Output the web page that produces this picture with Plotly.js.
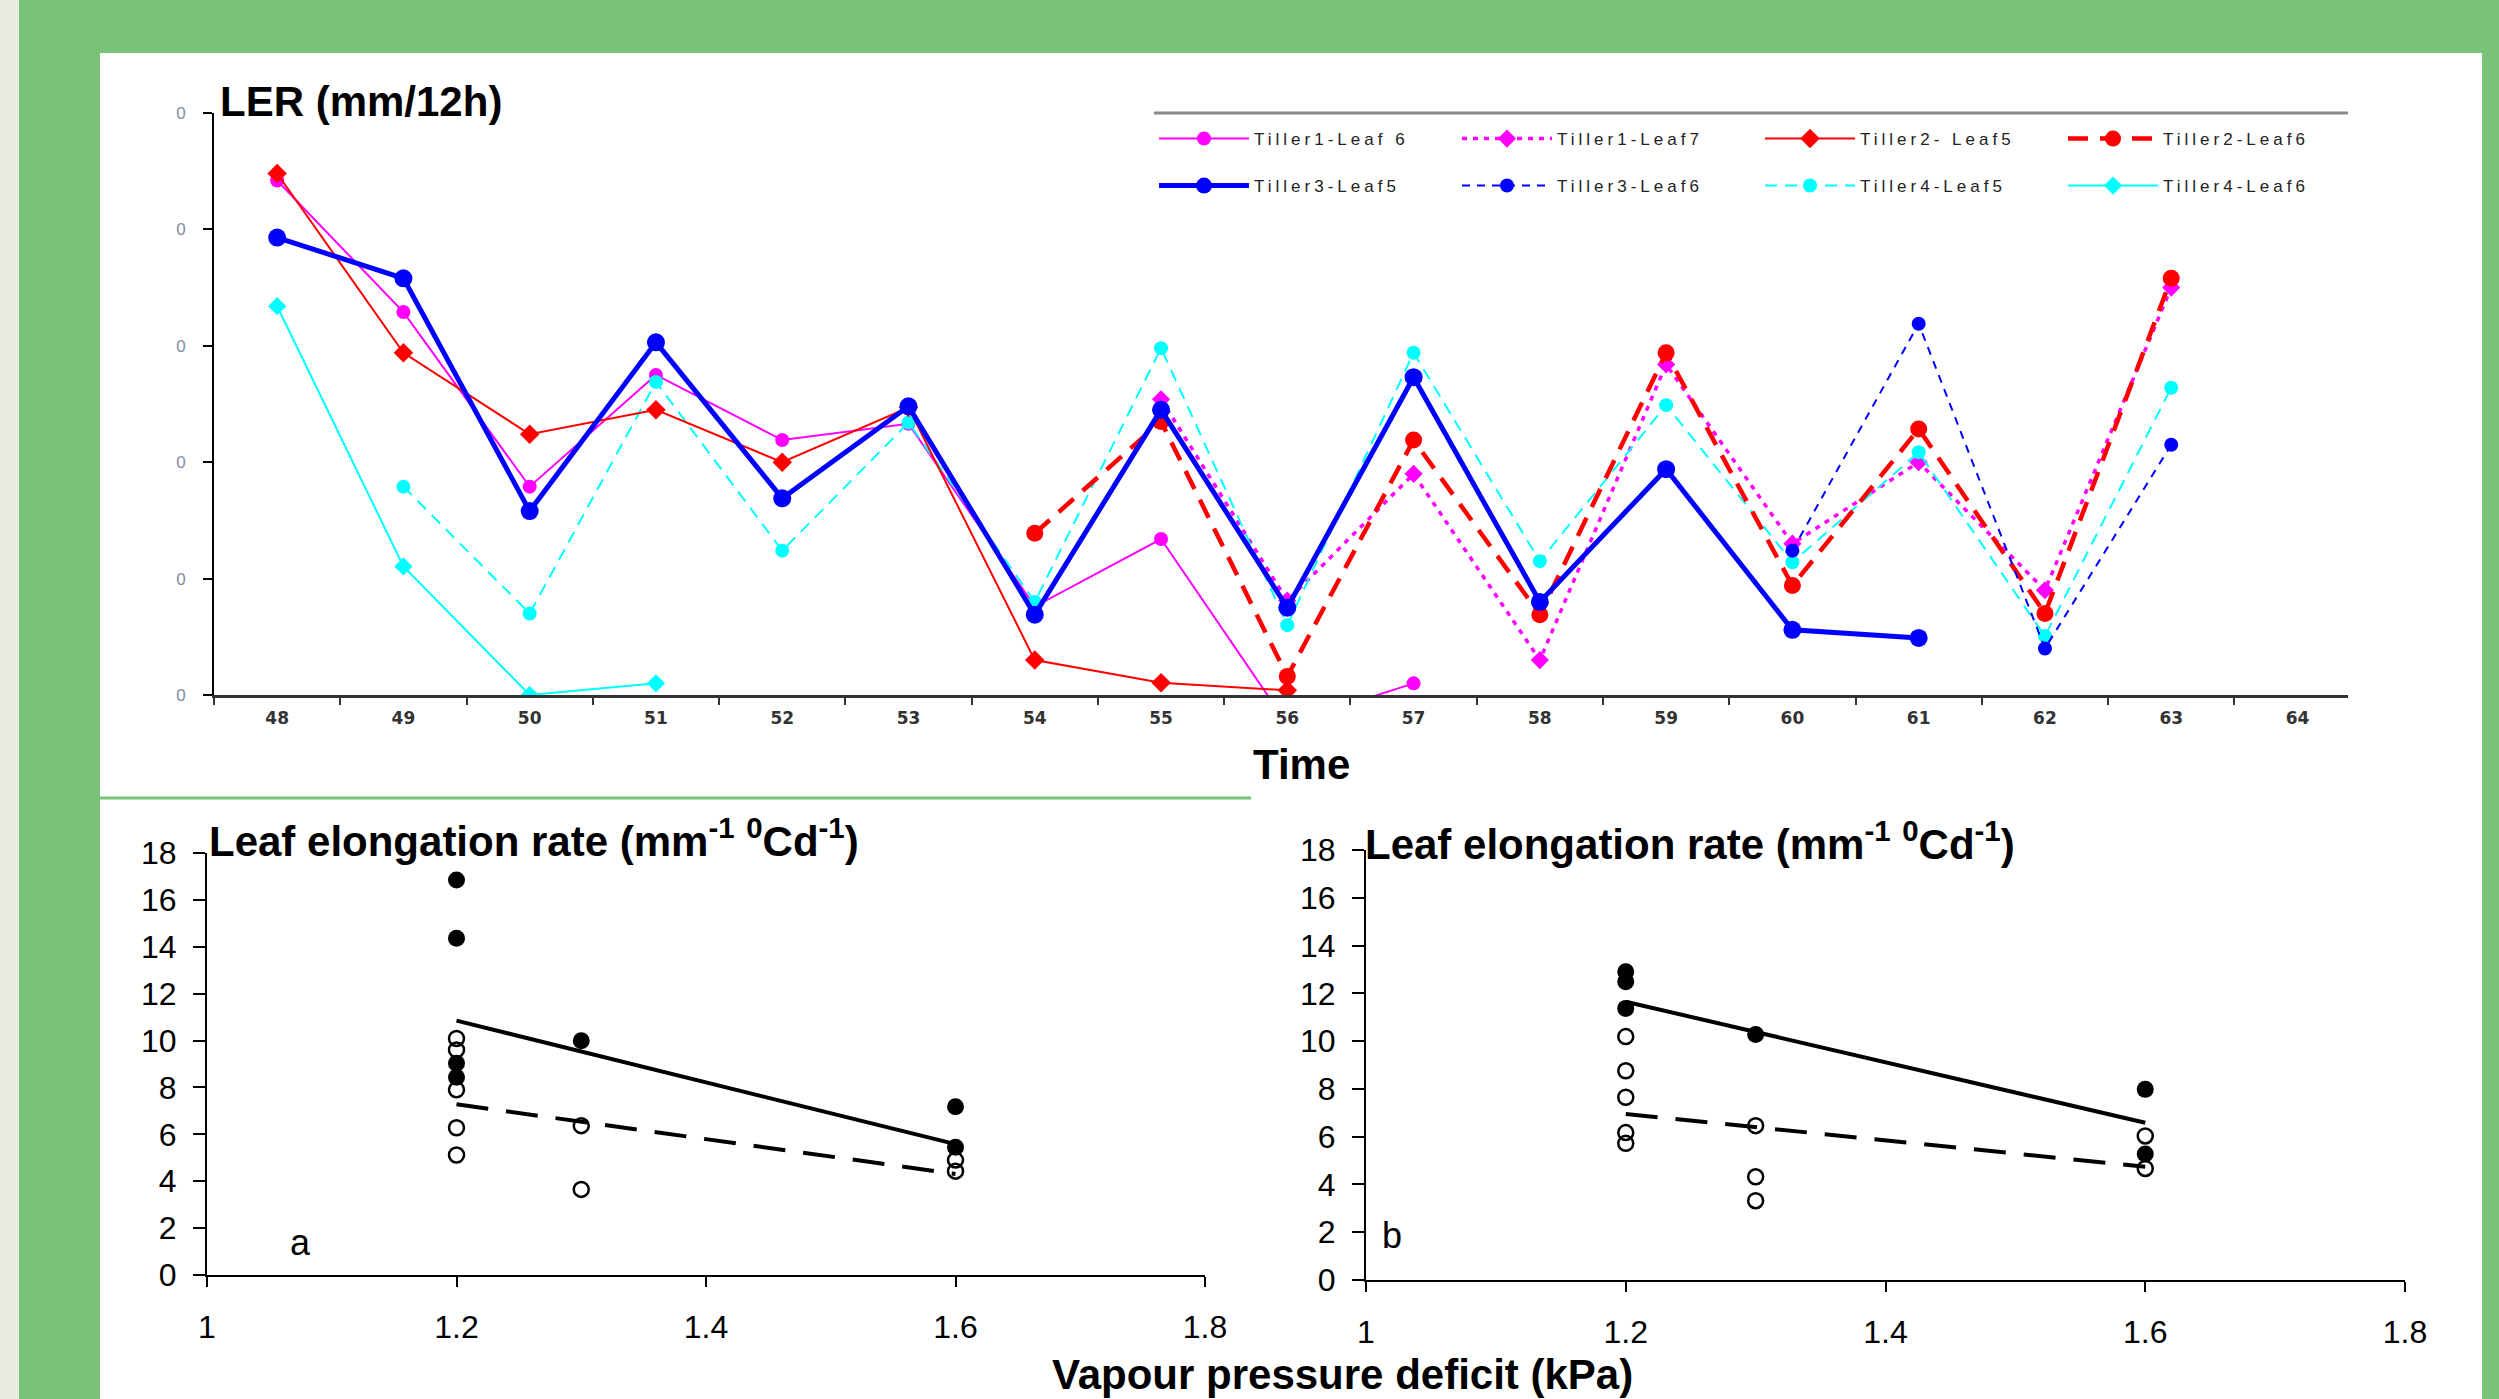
<!DOCTYPE html>
<html><head><meta charset="utf-8">
<script src="https://cdn.plot.ly/plotly-3.0.1.min.js"></script>
<style>
html,body{margin:0;padding:0;background:#78c377;}
.legendtext, g.legend text, g.legend2 text, [class*="legend"] text.legendtext{letter-spacing:4px !important;}
</style>
</head><body>
<div id="chart" style="width:2499px;height:1399px;"></div>
<script>
// ---------- Top chart data: LER (mm/12h) vs Time ----------
const times = [48,49,50,51,52,53,54,55,56,57,58,59,60,61,62,63];
const timeTicks = [48,49,50,51,52,53,54,55,56,57,58,59,60,61,62,63,64];
const timeTickText = ['48','49','50','51','52','53','54','55','56','57','58','59','60','61','62','63','64'];
const lerTicks = [0,10,20,30,40,50];
const lerTickText = ['0','0','0','0','0','0'];

const tiller1Leaf6 = [44.2,32.9,17.9,27.5,21.9,23.3,7.6,13.4,-2.5,1.0,null,null,null,null,null,null];
const tiller1Leaf7 = [null,null,null,null,null,null,null,25.4,8.1,19.0,3.0,28.4,13.0,20.0,9.0,35.0];
const tiller2Leaf5 = [44.8,29.4,22.4,24.5,20.0,24.7,3.0,1.05,0.4,null,null,null,null,null,null,null];
const tiller2Leaf6 = [null,null,null,null,null,null,13.9,23.5,1.6,21.9,6.9,29.4,9.4,22.85,7.0,35.8];
const tiller3Leaf5 = [39.3,35.8,15.8,30.3,16.9,24.8,6.9,24.5,7.5,27.3,8.0,19.4,5.6,4.9,null,null];
const tiller3Leaf6 = [null,null,null,null,null,null,null,null,null,null,null,null,12.4,31.9,4.0,21.5];
const tiller4Leaf5 = [null,17.9,7.0,26.9,12.4,23.4,8.0,29.8,6.0,29.4,11.5,24.9,11.4,20.85,5.06,26.4];
const tiller4Leaf6 = [33.4,11.05,0.0,1.0,null,null,null,null,null,null,null,null,null,null,null,null];

// ---------- Bottom panels: Leaf elongation rate vs VPD ----------
const vpdTicks = [1,1.2,1.4,1.6,1.8];
const lerRateTicks = [0,2,4,6,8,10,12,14,16,18];

const aFilledX = [1.2,1.2,1.2,1.2,1.3,1.6,1.6];
const aFilledY = [16.85,14.36,9.03,8.43,9.99,7.18,5.45];
const aOpenX = [1.2,1.2,1.2,1.2,1.2,1.3,1.3,1.6,1.6];
const aOpenY = [10.09,9.6,7.9,6.28,5.12,6.37,3.65,4.9,4.43];
const aFitX = [1.2,1.6];
const aSolidFitY = [10.85,5.58];
const aDashFitY = [7.28,4.31];

const bFilledX = [1.2,1.2,1.2,1.3,1.6,1.6];
const bFilledY = [12.9,12.49,11.37,10.28,7.98,5.27];
const bOpenX = [1.2,1.2,1.2,1.2,1.2,1.3,1.3,1.3,1.6,1.6];
const bOpenY = [10.19,8.76,7.65,6.17,5.72,6.46,4.32,3.32,6.03,4.67];
const bFitX = [1.2,1.6];
const bSolidFitY = [11.65,6.58];
const bDashFitY = [6.95,4.74];

// ---------- helpers ----------
const W = 2499, H = 1399;
const px = v => v / W;
const py = v => 1 - v / H;
const FONT = 'Liberation Sans, Arial, sans-serif';

function tSeries(name, y, color, width, dash, symbol, size, legend, rank) {
  return {
    type: 'scatter', mode: 'lines+markers', name: name, x: times, y: y,
    xaxis: 'x', yaxis: 'y',
    line: {color: color, width: width, dash: dash},
    marker: {color: color, symbol: symbol, size: size},
    legend: legend, legendrank: rank, hoverinfo: 'skip'
  };
}

const traces = [
  tSeries('Tiller1-Leaf 6', tiller1Leaf6, '#ff00ff', 2, 'solid', 'circle', 14, 'legend', 1),
  tSeries('Tiller1-Leaf7', tiller1Leaf7, '#ff00ff', 3.5, '5px,6px', 'diamond', 14, 'legend', 2),
  tSeries('Tiller4-Leaf6', tiller4Leaf6, '#00ffff', 2, 'solid', 'diamond', 14, 'legend2', 8),
  tSeries('Tiller4-Leaf5', tiller4Leaf5, '#00ffff', 2, '12px,8px', 'circle', 14, 'legend2', 7),
  tSeries('Tiller2- Leaf5', tiller2Leaf5, '#ff0000', 2, 'solid', 'diamond', 15, 'legend', 3),
  tSeries('Tiller2-Leaf6', tiller2Leaf6, '#ff0000', 4.5, '20px,12px', 'circle', 17, 'legend', 4),
  tSeries('Tiller3-Leaf6', tiller3Leaf6, '#0000ff', 2, '8px,7px', 'circle', 14, 'legend2', 6),
  tSeries('Tiller3-Leaf5', tiller3Leaf5, '#0000ff', 5, 'solid', 'circle', 18, 'legend2', 5)
];

function pts(x, y, xa, ya, open) {
  return {
    type: 'scatter', mode: 'markers', x: x, y: y, xaxis: xa, yaxis: ya, showlegend: false,
    marker: open ? {symbol: 'circle-open', size: 15, color: '#000', line: {color: '#000', width: 2.5}}
                 : {symbol: 'circle', size: 17, color: '#000'},
    hoverinfo: 'skip', cliponaxis: false
  };
}
function fit(x, y, xa, ya, dash) {
  return {
    type: 'scatter', mode: 'lines', x: x, y: y, xaxis: xa, yaxis: ya, showlegend: false,
    line: {color: '#000', width: 4, dash: dash}, hoverinfo: 'skip'
  };
}
traces.push(
  fit(aFitX, aSolidFitY, 'x2', 'y2', 'solid'),
  fit(aFitX, aDashFitY, 'x2', 'y2', '32px,18px'),
  pts(aFilledX, aFilledY, 'x2', 'y2', false),
  pts(aOpenX, aOpenY, 'x2', 'y2', true),
  fit(bFitX, bSolidFitY, 'x3', 'y3', 'solid'),
  fit(bFitX, bDashFitY, 'x3', 'y3', '32px,18px'),
  pts(bFilledX, bFilledY, 'x3', 'y3', false),
  pts(bOpenX, bOpenY, 'x3', 'y3', true)
);

const bottomX = (dom) => ({
  domain: dom, range: [1, 1.8], tickvals: vpdTicks, ticktext: vpdTicks.map(String),
  showline: true, linecolor: '#000', linewidth: 2, ticks: 'outside', ticklen: 10, tickwidth: 2, tickcolor: '#000',
  showgrid: false, zeroline: false, ticklabelstandoff: 13,
  tickfont: {family: FONT, size: 32, color: '#000'}
});
const bottomY = (dom, anchor) => ({
  domain: dom, range: [0, 18], tickvals: lerRateTicks, anchor: anchor,
  showline: true, linecolor: '#000', linewidth: 2, ticks: 'outside', ticklen: 12, tickwidth: 2, tickcolor: '#000',
  showgrid: false, zeroline: false, ticklabelstandoff: 10,
  tickfont: {family: FONT, size: 32, color: '#000'}
});

const legendBase = {
  xanchor: 'left', yanchor: 'middle', orientation: 'h',
  entrywidth: 198, entrywidthmode: 'pixels', itemwidth: 90,
  font: {family: FONT, size: 17, color: '#222'}, bgcolor: 'rgba(0,0,0,0)',
  itemclick: false, itemdoubleclick: false
};

const layout = {
  width: W, height: H, margin: {l: 0, r: 0, t: 0, b: 0, autoexpand: false},
  paper_bgcolor: '#78c377', plot_bgcolor: 'rgba(0,0,0,0)',
  xaxis: {
    domain: [px(214), px(2348)], range: [47.5, 64.4], anchor: 'y',
    tickvals: timeTicks, ticktext: timeTickText, ticks: '',
    minor: {tickvals: [47.5,48.5,49.5,50.5,51.5,52.5,53.5,54.5,55.5,56.5,57.5,58.5,59.5,60.5,61.5,62.5,63.5],
            ticks: 'outside', ticklen: 7, tickwidth: 2, tickcolor: '#333', showgrid: false},
    showline: true, linecolor: '#333', linewidth: 3, showgrid: false, zeroline: false,
    ticklabelstandoff: 6,
    tickfont: {family: 'DejaVu Sans, sans-serif', size: 17, color: '#333', weight: 'bold'}
  },
  yaxis: {
    domain: [py(695), py(113)], range: [0, 50], anchor: 'x',
    tickvals: lerTicks, ticktext: lerTickText, ticks: 'outside', ticklen: 9, tickwidth: 2, tickcolor: '#000',
    showline: true, linecolor: '#000', linewidth: 2, showgrid: false, zeroline: false,
    ticklabelstandoff: 14,
    tickfont: {family: FONT, size: 17, color: '#7d8ea3'}
  },
  xaxis2: Object.assign(bottomX([px(207), px(1205)]), {anchor: 'y2'}),
  yaxis2: bottomY([py(1275), py(853)], 'x2'),
  xaxis3: Object.assign(bottomX([px(1366), px(2405)]), {anchor: 'y3'}),
  yaxis3: bottomY([py(1280), py(850)], 'x3'),
  legend: Object.assign({}, legendBase, {x: px(1154), y: py(139)}),
  legend2: Object.assign({}, legendBase, {x: px(1154), y: py(186)}),
  shapes: [
    {type: 'rect', xref: 'paper', yref: 'paper', x0: 0, x1: px(19), y0: 0, y1: 1,
     fillcolor: '#e8ece0', line: {width: 0}, layer: 'below'},
    {type: 'rect', xref: 'paper', yref: 'paper', x0: px(100), x1: px(2482), y0: 0, y1: py(53),
     fillcolor: '#ffffff', line: {width: 0}, layer: 'below'},
    {type: 'line', xref: 'paper', yref: 'paper', x0: px(100), x1: px(1251), y0: py(798), y1: py(798),
     line: {color: '#78c377', width: 3}, layer: 'below'},
    {type: 'line', xref: 'paper', yref: 'paper', x0: px(1154), x1: px(2348), y0: py(113), y1: py(113),
     line: {color: '#8a8a8a', width: 3}, layer: 'below'}
  ],
  annotations: [
    {text: '<b>LER (mm/12h)</b>', xref: 'paper', yref: 'paper', x: px(218), y: py(101),
     xanchor: 'left', yanchor: 'middle', showarrow: false, font: {family: FONT, size: 42, color: '#000'}},
    {text: '<b>Time</b>', xref: 'paper', yref: 'paper', x: px(1301), y: py(764),
     xanchor: 'center', yanchor: 'middle', showarrow: false, font: {family: FONT, size: 42, color: '#000'}},
    {text: '<b>Leaf elongation rate (mm<sup>-1</sup> <sup>0</sup>Cd<sup>-1</sup>)</b>', xref: 'paper', yref: 'paper',
     x: px(207), y: py(838), xanchor: 'left', yanchor: 'middle', showarrow: false,
     font: {family: FONT, size: 42, color: '#000'}},
    {text: '<b>Leaf elongation rate (mm<sup>-1</sup> <sup>0</sup>Cd<sup>-1</sup>)</b>', xref: 'paper', yref: 'paper',
     x: px(1363), y: py(841), xanchor: 'left', yanchor: 'middle', showarrow: false,
     font: {family: FONT, size: 42, color: '#000'}},
    {text: 'a', xref: 'paper', yref: 'paper', x: px(300), y: py(1242), xanchor: 'center', yanchor: 'middle',
     showarrow: false, font: {family: FONT, size: 36, color: '#000'}},
    {text: 'b', xref: 'paper', yref: 'paper', x: px(1392), y: py(1235), xanchor: 'center', yanchor: 'middle',
     showarrow: false, font: {family: FONT, size: 36, color: '#000'}},
    {text: '<b>Vapour pressure deficit (kPa)</b>', xref: 'paper', yref: 'paper', x: px(1342), y: py(1374),
     xanchor: 'center', yanchor: 'middle', showarrow: false, font: {family: FONT, size: 42, color: '#000'}}
  ]
};

Plotly.newPlot('chart', traces, layout, {staticPlot: true, displayModeBar: false}).then(function () {
  document.querySelectorAll('#chart .legendtext').forEach(function (t) {
    t.style.letterSpacing = '4px';
  });
});
</script>
</body></html>
